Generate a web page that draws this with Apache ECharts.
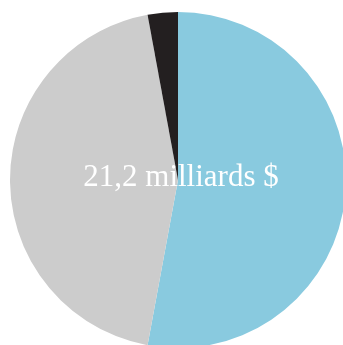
<!DOCTYPE html>
<html>
<head>
<meta charset="utf-8">
<style>
  html, body { margin: 0; padding: 0; background: #ffffff; }
  #chart { width: 343px; height: 345px; }
</style>
<script src="https://cdn.jsdelivr.net/npm/echarts@6/dist/echarts.min.js"></script>
</head>
<body>
<div id="chart"></div>
<script>
  // Share of the total, in percent
  const categories = ['A', 'B', 'C'];
  const shares = [52.9, 44.2, 2.9];
  const colors = ['#89cadf', '#cccccc', '#231f20'];
  const centerLabel = '21,2 milliards $';

  const chart = echarts.init(document.getElementById('chart'), null, { renderer: 'canvas' });

  chart.setOption({
    animation: false,
    backgroundColor: '#ffffff',
    series: [{
      type: 'pie',
      center: [178, 180],
      radius: [0, 168],
      startAngle: 90,
      clockwise: true,
      label: { show: false },
      labelLine: { show: false },
      emphasis: { disabled: true },
      itemStyle: { borderWidth: 0 },
      data: categories.map((name, i) => ({
        name,
        value: shares[i],
        itemStyle: { color: colors[i] }
      }))
    }],
    graphic: {
      elements: [{
        type: 'text',
        z: 100,
        x: 181,
        y: 178,
        style: {
          text: centerLabel,
          fill: '#ffffff',
          fontSize: 31,
          fontFamily: '"Liberation Serif", "Times New Roman", serif',
          align: 'center',
          verticalAlign: 'middle'
        }
      }]
    }
  });
</script>
</body>
</html>
